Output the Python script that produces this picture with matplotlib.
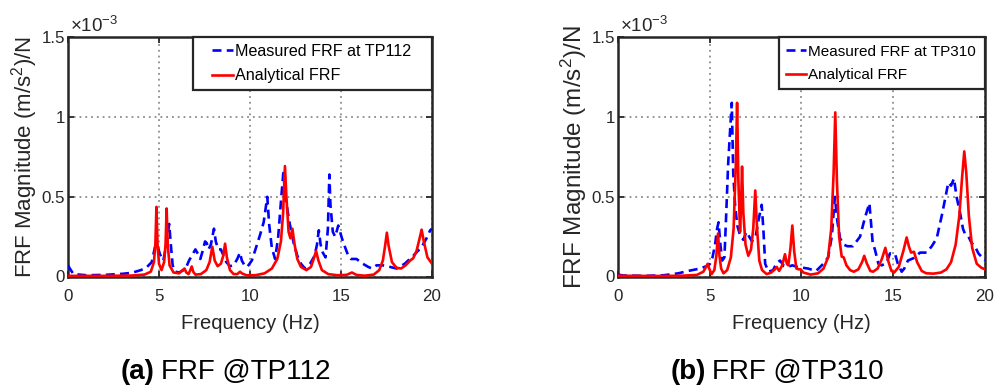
import numpy as np
import matplotlib
matplotlib.use("Agg")
import matplotlib.pyplot as plt
from matplotlib.legend_handler import HandlerLine2D

plt.rcParams["font.family"] = ["Liberation Sans", "DejaVu Sans"]
plt.rcParams["mathtext.fontset"] = "custom"
plt.rcParams["mathtext.rm"] = "Liberation Sans"
plt.rcParams["mathtext.it"] = "Liberation Sans:italic"
plt.rcParams["mathtext.bf"] = "Liberation Sans:bold"

# ---- FRF data (magnitudes in units of 1e-3 (m/s^2)/N) ----
# TP112, measured
freq_tp112_meas = [0.0, 0.1, 0.3, 1.0, 2.0, 3.0, 3.5, 4.0, 4.3, 4.6, 4.78, 4.9, 5.05, 5.24,
                   5.4, 5.56, 5.65, 5.75, 5.9, 6.1, 6.35, 6.5, 6.65, 6.85, 7.0, 7.15, 7.27,
                   7.4, 7.53, 7.62, 7.72, 7.85, 8.02, 8.12, 8.25, 8.4, 8.55, 8.7, 8.9, 9.1,
                   9.3, 9.45, 9.55, 9.7, 9.85, 10.1, 10.3, 10.55, 10.75, 10.95, 11.05, 11.2,
                   11.38, 11.55, 11.7, 11.83, 11.95, 12.15, 12.4, 12.6, 12.8, 13.02, 13.3,
                   13.55, 13.68, 13.78, 13.88, 14.0, 14.15, 14.28, 14.36, 14.42, 14.55,
                   14.68, 14.85, 15.05, 15.22, 15.4, 15.55, 15.85, 16.2, 16.5, 16.7, 16.95,
                   17.3, 17.7, 18.06, 18.5, 18.97, 19.43, 19.7, 19.9, 20.0]
mag_tp112_meas = [0.07, 0.05, 0.015, 0.008, 0.01, 0.017, 0.023, 0.04, 0.055, 0.09, 0.185, 0.2,
                  0.14, 0.1, 0.2, 0.33, 0.2, 0.07, 0.03, 0.025, 0.04, 0.06, 0.1, 0.14, 0.17,
                  0.14, 0.11, 0.16, 0.22, 0.21, 0.17, 0.2, 0.3, 0.22, 0.17, 0.17, 0.13, 0.09,
                  0.065, 0.07, 0.11, 0.15, 0.1, 0.07, 0.06, 0.1, 0.17, 0.26, 0.34, 0.5, 0.33,
                  0.18, 0.11, 0.25, 0.47, 0.65, 0.5, 0.35, 0.21, 0.13, 0.08, 0.05, 0.08, 0.13,
                  0.2, 0.29, 0.2, 0.15, 0.12, 0.3, 0.64, 0.45, 0.28, 0.25, 0.32, 0.24, 0.185,
                  0.13, 0.11, 0.11, 0.08, 0.06, 0.05, 0.07, 0.07, 0.06, 0.05, 0.08, 0.13,
                  0.185, 0.24, 0.29, 0.3]

# TP112, analytical
freq_tp112_ana = [0.0, 2.0, 3.5, 4.2, 4.55, 4.72, 4.8, 4.86, 4.92, 5.0, 5.14, 5.28, 5.36, 5.42,
                  5.48, 5.58, 5.8, 6.1, 6.3, 6.4, 6.5, 6.62, 6.72, 6.8, 6.88, 7.0, 7.3, 7.6,
                  7.78, 7.93, 8.06, 8.22, 8.4, 8.53, 8.63, 8.73, 8.9, 9.1, 9.3, 9.45, 9.55,
                  9.8, 10.3, 10.8, 11.2, 11.5, 11.7, 11.82, 11.92, 12.0, 12.12, 12.22, 12.33,
                  12.45, 12.6, 12.8, 13.1, 13.35, 13.5, 13.63, 13.76, 13.95, 14.3, 14.8,
                  15.3, 15.6, 15.85, 16.3, 16.8, 17.1, 17.3, 17.42, 17.52, 17.62, 17.8,
                  18.05, 18.3, 18.55, 18.8, 18.97, 19.15, 19.32, 19.43, 19.55, 19.75, 20.0]
mag_tp112_ana = [0.004, 0.004, 0.006, 0.012, 0.03, 0.09, 0.2, 0.437, 0.2, 0.08, 0.04, 0.09,
                 0.2, 0.427, 0.2, 0.07, 0.025, 0.02, 0.04, 0.05, 0.025, 0.015, 0.04, 0.063,
                 0.03, 0.012, 0.015, 0.04, 0.09, 0.187, 0.1, 0.065, 0.08, 0.13, 0.206, 0.12,
                 0.04, 0.015, 0.015, 0.03, 0.02, 0.008, 0.008, 0.02, 0.05, 0.11, 0.22, 0.4,
                 0.693, 0.5, 0.28, 0.24, 0.3, 0.2, 0.11, 0.06, 0.04, 0.06, 0.11, 0.16, 0.1,
                 0.04, 0.015, 0.008, 0.01, 0.025, 0.01, 0.005, 0.012, 0.04, 0.1, 0.19,
                 0.275, 0.19, 0.09, 0.055, 0.05, 0.07, 0.1, 0.115, 0.16, 0.24, 0.294, 0.22,
                 0.12, 0.08]

# TP310, measured
freq_tp310_meas = [0.0, 0.3, 1.5, 2.5, 3.29, 3.83, 4.47, 4.83, 5.01, 5.15, 5.29, 5.4, 5.48,
                   5.58, 5.68, 5.8, 5.9, 6.0, 6.1, 6.2, 6.28, 6.38, 6.5, 6.65, 6.83, 7.0,
                   7.15, 7.3, 7.5, 7.65, 7.83, 7.92, 8.02, 8.2, 8.45, 8.65, 8.83, 9.05, 9.25,
                   9.5, 9.77, 10.35, 10.8, 11.19, 11.45, 11.65, 11.82, 11.95, 12.1, 12.3,
                   12.5, 12.8, 13.19, 13.46, 13.7, 13.88, 14.0, 14.19, 14.37, 14.64, 14.82,
                   15.1, 15.25, 15.46, 15.6, 15.8, 16.1, 16.46, 16.82, 17.1, 17.37, 17.64,
                   17.85, 18.0, 18.15, 18.31, 18.45, 18.64, 18.8, 18.9, 19.1, 19.27, 19.45,
                   19.64, 19.8, 20.0]
mag_tp310_meas = [0.012, 0.006, 0.004, 0.008, 0.02, 0.035, 0.05, 0.065, 0.08, 0.12, 0.2, 0.3,
                  0.34, 0.2, 0.1, 0.12, 0.4, 0.7, 0.9, 1.09, 0.65, 0.45, 0.32, 0.26, 0.23,
                  0.28, 0.25, 0.22, 0.25, 0.35, 0.45, 0.3, 0.08, 0.03, 0.04, 0.085, 0.1,
                  0.065, 0.06, 0.07, 0.06, 0.05, 0.035, 0.08, 0.12, 0.25, 0.5, 0.35, 0.24,
                  0.2, 0.19, 0.19, 0.25, 0.37, 0.46, 0.21, 0.17, 0.08, 0.07, 0.085, 0.145,
                  0.14, 0.08, 0.03, 0.05, 0.1, 0.115, 0.15, 0.15, 0.19, 0.24, 0.38, 0.5, 0.59,
                  0.57, 0.615, 0.5, 0.4, 0.3, 0.27, 0.25, 0.21, 0.19, 0.145, 0.125, 0.1]

# TP310, analytical
freq_tp310_ana = [0.0, 2.0, 3.5, 4.3, 4.65, 4.8, 4.89, 4.97, 5.1, 5.25, 5.36, 5.45, 5.53, 5.62,
                  5.75, 5.95, 6.15, 6.3, 6.42, 6.49, 6.56, 6.65, 6.7, 6.76, 6.83, 6.95, 7.1,
                  7.25, 7.37, 7.48, 7.58, 7.7, 7.85, 8.1, 8.35, 8.55, 8.65, 8.78, 8.95, 9.1,
                  9.2, 9.28, 9.4, 9.5, 9.6, 9.72, 9.85, 9.95, 10.1, 10.5, 10.9, 11.2, 11.45,
                  11.62, 11.75, 11.84, 11.93, 12.05, 12.19, 12.3, 12.45, 12.65, 12.85, 13.1,
                  13.3, 13.42, 13.55, 13.75, 13.9, 14.15, 14.38, 14.57, 14.72, 14.9, 15.05,
                  15.3, 15.55, 15.73, 15.85, 15.97, 16.13, 16.3, 16.55, 16.8, 17.2, 17.6,
                  17.9, 18.15, 18.4, 18.6, 18.75, 18.87, 18.98, 19.12, 19.3, 19.55, 19.8,
                  20.0]
mag_tp310_ana = [0.005, 0.003, 0.005, 0.01, 0.03, 0.06, 0.08, 0.05, 0.015, 0.04, 0.13, 0.27,
                 0.13, 0.05, 0.02, 0.04, 0.12, 0.3, 0.7, 1.09, 0.6, 0.28, 0.42, 0.69, 0.4,
                 0.2, 0.13, 0.17, 0.3, 0.54, 0.3, 0.1, 0.04, 0.015, 0.025, 0.045, 0.06,
                 0.035, 0.07, 0.14, 0.08, 0.07, 0.18, 0.32, 0.16, 0.05, 0.045, 0.045, 0.025,
                 0.012, 0.02, 0.05, 0.12, 0.3, 0.65, 1.03, 0.6, 0.25, 0.125, 0.12, 0.07,
                 0.04, 0.03, 0.045, 0.09, 0.13, 0.085, 0.035, 0.03, 0.05, 0.11, 0.18, 0.1,
                 0.035, 0.025, 0.06, 0.16, 0.245, 0.19, 0.15, 0.155, 0.09, 0.035, 0.02,
                 0.018, 0.025, 0.045, 0.09, 0.2, 0.38, 0.62, 0.785, 0.65, 0.38, 0.18, 0.08,
                 0.055, 0.045]

x_ticks = [0, 5, 10, 15, 20]
x_tick_labels = ["0", "5", "10", "15", "20"]
y_ticks = [0, 0.5, 1, 1.5]
y_tick_labels = ["0", "0.5", "1", "1.5"]

INK = "#262626"


class InsetLineHandler(HandlerLine2D):
    """Legend line handler that leaves blank space at the start of the handle box."""

    def __init__(self, inset=0.0, **kw):
        super().__init__(**kw)
        self.inset = inset

    def create_artists(self, legend, orig_handle, xdescent, ydescent, width, height,
                       fontsize, trans):
        artists = super().create_artists(legend, orig_handle, xdescent, ydescent,
                                         width, height, fontsize, trans)
        for a in artists:
            xd = np.asarray(a.get_xdata(), dtype=float)
            if len(xd) >= 2:
                x0 = xd[0] + self.inset * (xd[-1] - xd[0])
                a.set_xdata(np.linspace(x0, xd[-1], len(xd)))
        return artists


fig = plt.figure(figsize=(9.95, 3.9), dpi=100)


def draw_panel(rect, f_meas, m_meas, f_ana, m_ana, meas_label, ylabel_size, ylabel_x,
               leg_left, leg_size, leg_handle, leg_inset, leg_pad, leg_spacing):
    ax = fig.add_axes(rect)
    l1, = ax.plot(f_meas, m_meas, color="blue", lw=1.9, dashes=(3.4, 2.0),
                  label=meas_label, zorder=3)
    l2, = ax.plot(f_ana, m_ana, color="red", lw=1.9, label="Analytical FRF", zorder=4)
    ax.set_xlim(0, 20)
    ax.set_ylim(0, 1.5)
    ax.set_xticks(x_ticks)
    ax.set_xticklabels(x_tick_labels)
    ax.set_yticks(y_ticks)
    ax.set_yticklabels(y_tick_labels)
    ax.grid(True, linestyle=(0, (1, 2.2)), color="0.55", lw=1.3, zorder=1)
    ax.tick_params(direction="in", length=4, width=1.3, top=True, right=True,
                   labelsize=12.2, colors=INK)
    ax.tick_params(axis="x", pad=9)
    ax.tick_params(axis="y", pad=2)
    for sp in ax.spines.values():
        sp.set_linewidth(1.8)
        sp.set_color(INK)
    ax.set_xlabel("Frequency (Hz)", fontsize=14.5, color=INK, labelpad=7)
    ax.set_ylabel("FRF Magnitude (m/s$^2$)/N", fontsize=ylabel_size, color=INK)
    ax.yaxis.set_label_coords(ylabel_x, 0.5)
    ax.text(0.005, 1.006, r"$\times10^{-3}$", transform=ax.transAxes,
            fontsize=13.5, color=INK, ha="left", va="bottom")
    handler = InsetLineHandler(inset=leg_inset)
    leg = ax.legend(handles=[l1, l2], loc="upper right",
                    bbox_to_anchor=(leg_left, 0.0, 1.0 - leg_left, 1.0),
                    mode="expand", borderaxespad=0, fontsize=leg_size,
                    handlelength=leg_handle, handletextpad=0.15,
                    labelspacing=leg_spacing, borderpad=leg_pad,
                    fancybox=False, framealpha=1,
                    handler_map={l1: handler, l2: handler})
    leg.get_frame().set_edgecolor(INK)
    leg.get_frame().set_linewidth(1.6)
    return ax


draw_panel([68 / 995, 113.5 / 390, 364 / 995, 239 / 390],
           freq_tp112_meas, mag_tp112_meas, freq_tp112_ana, mag_tp112_ana,
           "Measured FRF at TP112", 16, -0.078, 0.343, 11.6, 2.07, 0.37, 0.41, 0.58)
draw_panel([618 / 995, 113.5 / 390, 367 / 995, 239 / 390],
           freq_tp310_meas, mag_tp310_meas, freq_tp310_ana, mag_tp310_ana,
           "Measured FRF at TP310", 17.5, -0.078, 0.439, 11.0, 1.31, 0.0, 0.46, 0.65)

# Sub-figure captions
fig.text(155 / 995, 18 / 390, "(a)", fontsize=20, fontweight="bold", ha="right", va="center")
fig.text(161 / 995, 18 / 390, "FRF @TP112", fontsize=20, ha="left", va="center")
fig.text(706 / 995, 18 / 390, "(b)", fontsize=20, fontweight="bold", ha="right", va="center")
fig.text(712 / 995, 18 / 390, "FRF @TP310", fontsize=20, ha="left", va="center")

fig.savefig("out.png", dpi=100)
